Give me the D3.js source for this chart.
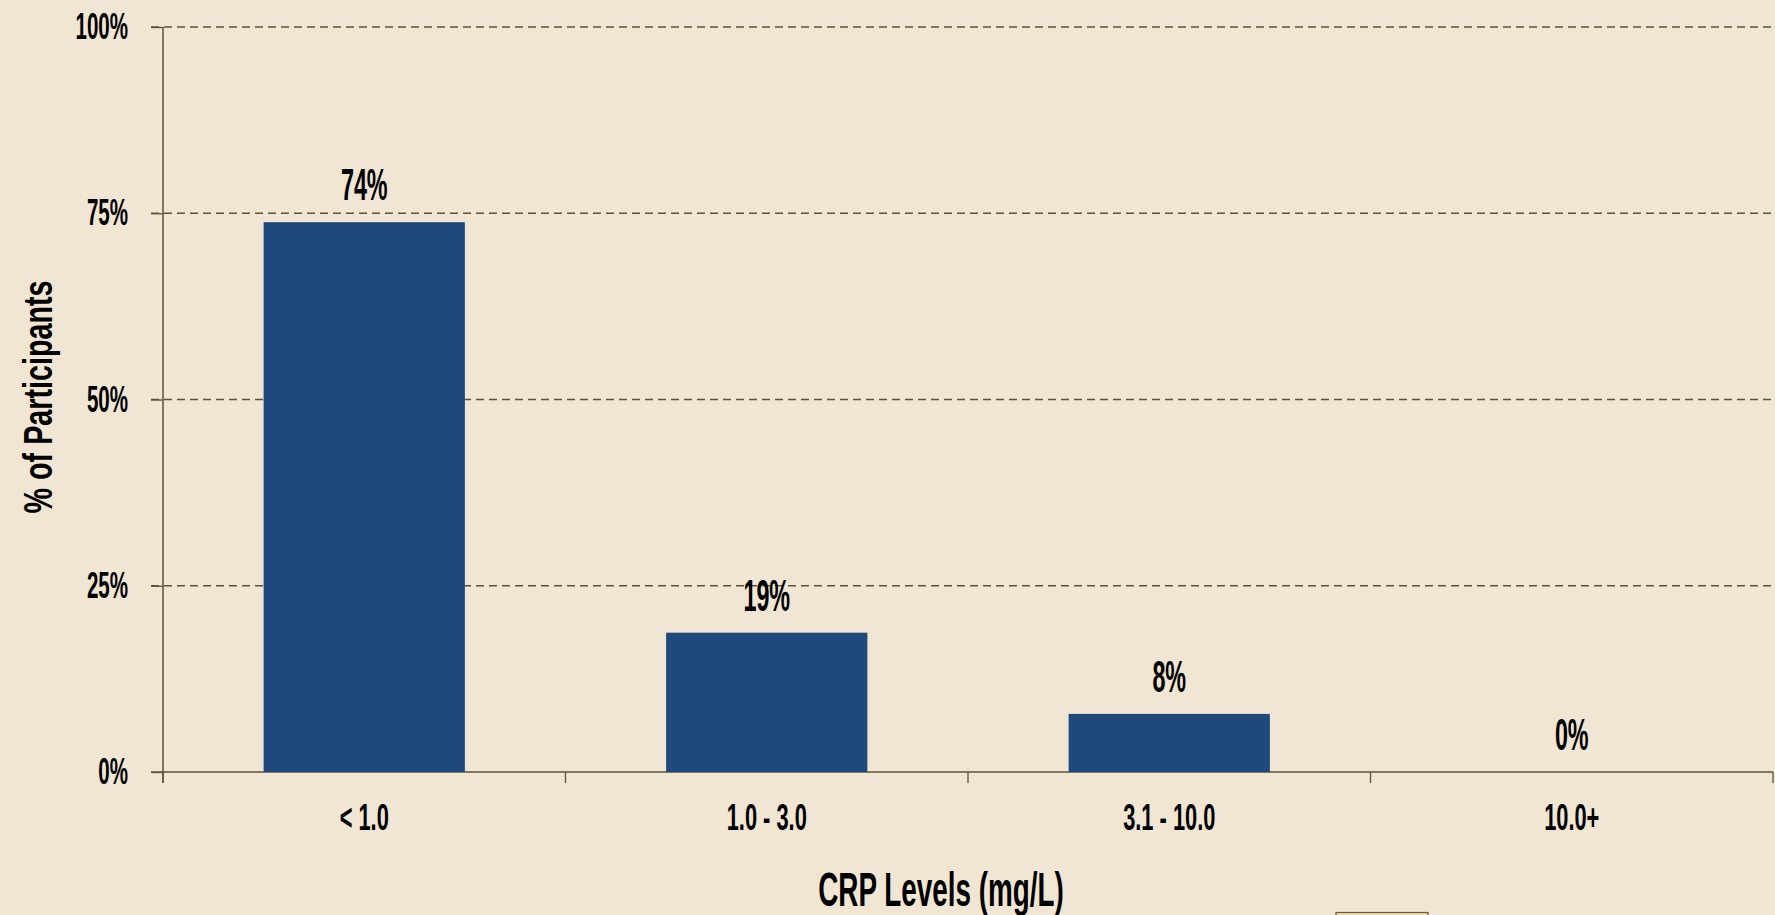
<!DOCTYPE html>
<html>
<head>
<meta charset="utf-8">
<script src="https://cdn.jsdelivr.net/npm/d3@7"></script>
<style>
  body { margin: 0; background: #f1e6d3; }
  svg { display: block; }
  text { font-family: "Liberation Sans Narrow", "Arial Narrow", sans-serif; font-weight: bold; fill: #000; }
</style>
</head>
<body>
<svg></svg>
<script>
// Data
const categories = ["< 1.0", "1.0 - 3.0", "3.1 - 10.0", "10.0+"]
const values = [0.738, 0.187, 0.078, 0.0]
const yTicks = [0, 0.25, 0.5, 0.75, 1]

const chartTitleX = "CRP Levels (mg/L)"
const chartTitleY = "% of Participants"

// Svg size
const width = 1775
const height = 915

const svg = d3.select("svg")
    .attr("width", width)
    .attr("height", height)

svg.append("rect")
    .attr("width", width)
    .attr("height", height)
    .attr("fill", "#f1e6d3")

const margin = { top: 27, right: 2, bottom: 143, left: 163 }
const innerWidth = width - margin.left - margin.right
const innerHeight = height - margin.top - margin.bottom

const axisColor = "#5b5337"
const barColor = "#1f497d"

// the original font is a very condensed one, so squeeze the text
const squeeze = (sel, k) => sel.each(function () {
    const len = this.getComputedTextLength()
    d3.select(this)
        .attr("textLength", len * k)
        .attr("lengthAdjust", "spacingAndGlyphs")
})

const data = categories.map((c, i) => ({ cat: c, value: values[i] }))

// Scales
const xScale = d3.scaleBand()
    .domain(categories)
    .range([0, innerWidth])
    .padding(0)

const yScale = d3.scaleLinear()
    .domain([0, 1])
    .range([innerHeight, 0])

const g = svg.append("g")
    .attr("transform", `translate(${margin.left}, ${margin.top})`)

// Dashed gridlines
g.selectAll(".grid").data(yTicks.filter(d => d > 0))
    .enter().append("line")
    .attr("class", "grid")
    .attr("x1", -12)
    .attr("x2", innerWidth)
    .attr("y1", d => yScale(d))
    .attr("y2", d => yScale(d))
    .attr("stroke", axisColor)
    .attr("stroke-width", 1.3)
    .attr("stroke-dasharray", "8,5")

// Y axis
const yAxis = d3.axisLeft(yScale)
    .tickValues(yTicks)
    .tickFormat(d3.format(".0%"))
    .tickSize(12)

const yAxisG = g.append("g").call(yAxis)
yAxisG.select(".domain").remove()
yAxisG.selectAll("line").attr("stroke", axisColor).attr("stroke-width", 1.3)
yAxisG.selectAll("text")
    .attr("font-size", 36)
    .attr("font-family", null)
    .attr("x", -35)
    .call(squeeze, 0.57)

g.append("line")
    .attr("x1", 0).attr("x2", 0)
    .attr("y1", 0).attr("y2", innerHeight + 11)
    .attr("stroke", axisColor)
    .attr("stroke-width", 1.5)

// X axis
const xAxis = d3.axisBottom(xScale).tickSize(0)
const xAxisG = g.append("g").call(xAxis)
    .attr("transform", `translate(0, ${innerHeight})`)
xAxisG.select(".domain").remove()
xAxisG.selectAll("text")
    .attr("font-size", 37)
    .attr("font-family", null)
    .attr("y", 58)
    .attr("dy", 0)
    .call(squeeze, 0.59)

g.append("line")
    .attr("x1", -12).attr("x2", innerWidth)
    .attr("y1", innerHeight).attr("y2", innerHeight)
    .attr("stroke", axisColor)
    .attr("stroke-width", 1.5)

// tick marks at the category boundaries
const bounds = categories.map(c => xScale(c)).concat([innerWidth])
g.selectAll(".xtick").data(bounds)
    .enter().append("line")
    .attr("class", "xtick")
    .attr("x1", d => d).attr("x2", d => d)
    .attr("y1", innerHeight).attr("y2", innerHeight + 11)
    .attr("stroke", axisColor)
    .attr("stroke-width", 1.3)

// Bars
const bw = xScale.bandwidth()
g.selectAll(".bar").data(data)
    .enter().append("rect")
    .attr("class", "bar")
    .attr("x", d => xScale(d.cat) + bw * 0.25)
    .attr("width", bw * 0.5)
    .attr("y", d => yScale(d.value))
    .attr("height", d => innerHeight - yScale(d.value))
    .attr("fill", barColor)

// Value labels
g.selectAll(".label").data(data)
    .enter().append("text")
    .attr("class", "label")
    .attr("text-anchor", "middle")
    .attr("font-size", 44)
    .attr("x", d => xScale(d.cat) + bw / 2)
    .attr("y", d => yScale(d.value) - 22)
    .text(d => d3.format(".0%")(d.value))
    .call(squeeze, 0.53)

// Axis titles
svg.append("text")
    .attr("text-anchor", "middle")
    .attr("font-size", 48)
    .attr("x", 941)
    .attr("y", 906)
    .text(chartTitleX)
    .call(squeeze, 0.58)

svg.append("text")
    .attr("text-anchor", "middle")
    .attr("font-size", 41)
    .attr("transform", "translate(52, 397) rotate(-90)")
    .text(chartTitleY)
    .call(squeeze, 0.7)

// legend box edge, cut off at the bottom
svg.append("rect")
    .attr("x", 1336)
    .attr("y", 912.5)
    .attr("width", 92)
    .attr("height", 10)
    .attr("fill", "#ead9b5")
    .attr("stroke", "#6e5a2e")
    .attr("stroke-width", 1.2)
</script>
</body>
</html>
